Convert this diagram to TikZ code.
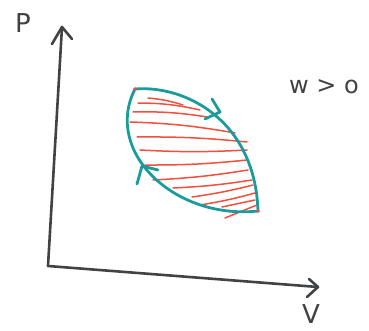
\documentclass[tikz,border=0pt]{standalone}
\usepackage{fontspec}
\setmainfont{DejaVu Sans}
\begin{document}
\begin{tikzpicture}[x=1pt,y=-1pt,
  axis/.style={draw=axisgray,line width=2.6pt,line cap=round,line join=round},
  loopline/.style={draw=teal1,line width=2.8pt,line cap=round,line join=round},
  hatch/.style={draw=hatchred,line width=1.5pt,line cap=round},
  lbl/.style={text=axisgray,font=\fontsize{26}{28}\selectfont}]
\definecolor{axisgray}{HTML}{404244}
\definecolor{teal1}{HTML}{1A9C9C}
\definecolor{hatchred}{HTML}{F2503E}
\useasboundingbox (0,0) rectangle (369,331);
% axes
\coordinate (O) at (48,266);
\coordinate (ytop) at (62,27);
\coordinate (xend) at (318,287);
\draw[axis] (O) -- (ytop);
\draw[axis] (52,44) -- (ytop) -- (72,39);
\draw[axis] (O) -- (xend);
\draw[axis] (309,279) -- (xend) -- (307,297);
\node[lbl] (P) at (23,23) {P};
\node[lbl] (V) at (311,314) {V};
\node[lbl,font=\fontsize{24}{26}\selectfont] (W) at (324,87) {w > o};
% hatching
\draw[hatch] (148,98) to[bend left=6] (183,105);
\draw[hatch] (138,103) to[bend left=6] (200,110);
\draw[hatch] (133,112) to[bend left=5] (207,117);
\draw[hatch] (130,122) to[bend left=4] (235,133);
\draw[hatch] (137,137) to[bend left=3] (247,142);
\draw[hatch] (140,150) to[bend right=3] (247,150);
\draw[hatch] (145,165) to[bend right=3] (247,160);
\draw[hatch] (153,180) to[bend right=3] (248,170);
\draw[hatch] (173,188) to[bend right=3] (252,180);
\draw[hatch] (192,197) to[bend right=3] (253,185);
\draw[hatch] (200,205) to[bend right=3] (255,193);
\draw[hatch] (222,207) to (255,200);
\draw[hatch] (225,218) to (257,205);
% loop
\coordinate (A) at (135,89);
\coordinate (B) at (258,211);
\draw[loopline] (A) .. controls (185,85) and (255,120) .. (B);
\draw[loopline] (B) .. controls (175,220) and (103,152) .. (A);
\fill[hatchred] (A) circle (1.8pt);
\fill[hatchred] (B) circle (1.8pt);
% direction marks
\coordinate (t1) at (220,112);
\draw[loopline] (212,99) -- (t1) -- (205,119);
\coordinate (t2) at (142,166);
\draw[loopline] (137,184) -- (t2) -- (158,170);
\end{tikzpicture}
\end{document}
